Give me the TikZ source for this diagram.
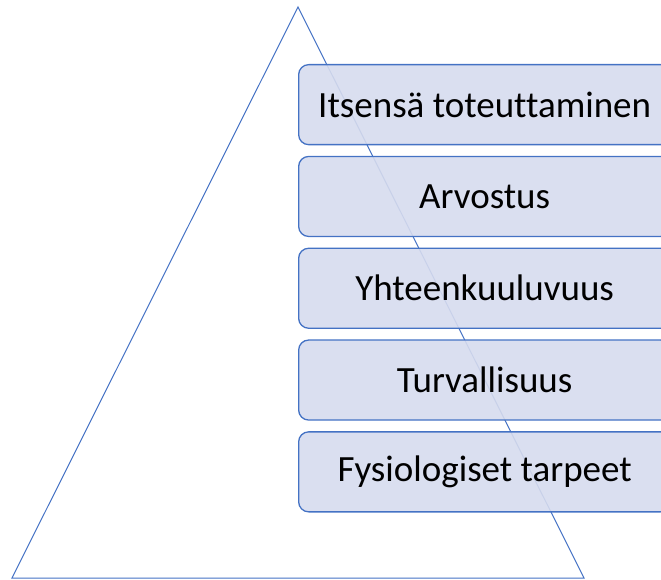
\documentclass[tikz,border=0pt]{standalone}
\usepackage{fontspec}
\setmainfont{Carlito}[Ligatures=NoCommon]
\usepackage{xcolor}
\usetikzlibrary{positioning}
\definecolor{PyramidBlue}{RGB}{68,114,196}
\definecolor{LevelFill}{RGB}{214,219,238}
\tikzset{
    levelbox/.style={rectangle, rounded corners=10pt, draw=PyramidBlue, line width=1.3pt, fill=LevelFill, fill opacity=0.9, text opacity=1, text=black, minimum width=372pt, minimum height=80pt, inner sep=0pt, font=\fontsize{37}{42}\selectfont}
}

\begin{document}
\begin{tikzpicture}[
        x=1pt, y=1pt,
        node distance=10.5pt,
        % --- STYLE KOLMIO ---
        pyramid/.style={draw=PyramidBlue, line width=1pt, line join=miter}
    ]
        \useasboundingbox (0,0) rectangle (661,-580);
        \clip (0,0) rectangle (661,-580);

        % --- KOLMIO ---
        \coordinate (apex) at (298,-7);
        \coordinate (baseL) at (12,-578);
        \coordinate (baseR) at (584,-578);
        \draw[pyramid] (baseL) -- (apex) -- (baseR) -- cycle;

        % --- TASOT ---
        \node[levelbox, anchor=north west] (itsen) at (298,-64) {Itsensä toteuttaminen};
        \node[levelbox, below=of itsen] (arvostus) {Arvostus};
        \node[levelbox, below=of arvostus] (yhteen) {Yhteenkuuluvuus};
        \node[levelbox, below=of yhteen] (turva) {Turvallisuus};
        \node[levelbox, below=of turva] (fysio) {Fysiologiset tarpeet};

    \end{tikzpicture}
\end{document}
